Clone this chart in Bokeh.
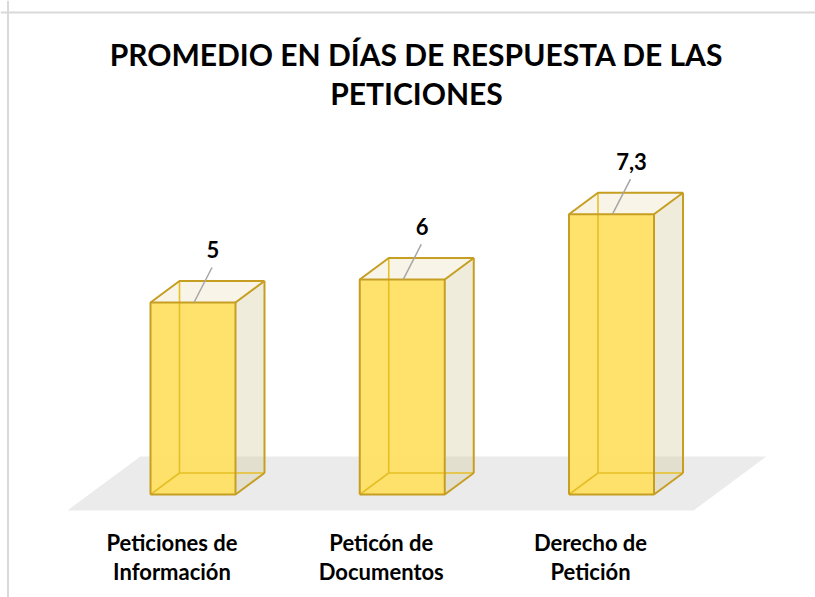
from bokeh.plotting import figure
from bokeh.models import Range1d, Span
from bokeh.core.properties import value
from bokeh.embed import file_html
from bokeh.resources import INLINE

# ---- data ----
cat_line1 = ["Peticiones de", "Peticón de", "Derecho de"]
cat_line2 = ["Información", "Documentos", "Petición"]
values = [5.0, 5.6, 7.3]
value_labels = ["5", "6", "7,3"]
title_lines = ["PROMEDIO EN DÍAS DE RESPUESTA DE LAS", "PETICIONES"]

# ---- layout (page pixel -> data mapping) ----
X0, SX = 192.5, 209.25   # px of category 0 centre, px per category
Y0, SY = 494.0, 38.4     # px of value 0, px per value unit
W, H = 815, 597

def dx_px(px):
    return px / SX

def dy_px(px):
    return px / SY

def px_x(px):
    return (px - X0) / SX

def px_y(py):
    return (Y0 - py) / SY

FONT = "Lato"

p = figure(width=W, height=H,
           x_range=Range1d(px_x(0), px_x(W)),
           y_range=Range1d(px_y(H), px_y(0)),
           x_axis_type=None, y_axis_type=None,
           output_backend="svg", toolbar_location=None, min_border=0)
p.grid.visible = False
p.outline_line_color = None
p.background_fill_color = "white"
p.border_fill_color = "white"

# chart-area border (top and left visible)
p.add_layout(Span(location=px_x(7.5), dimension="height", line_color="#d9d9d9", line_width=2))
p.add_layout(Span(location=px_y(12), dimension="width", line_color="#d9d9d9", line_width=2))

# ---- geometry ----
xs_cat = list(range(len(values)))
hw = dx_px(42.5)          # half bar width
ddx = dx_px(29)           # depth offset x
ddy = dy_px(21.5)         # depth offset y

# floor
f_front = dy_px(-16)
f_back = dy_px(38)
f_left = -0.5 - dx_px(21)
f_right = len(values) - 0.5 - dx_px(22.6)
f_dx = dx_px(73)
p.patch([f_left, f_right, f_right + f_dx, f_left + f_dx],
        [f_front, f_front, f_back, f_back],
        fill_color="#ebebeb", line_color=None)

front_x, front_y, side_x, side_y, top_x, top_y = [], [], [], [], [], []
hidden_x, hidden_y, vis_x, vis_y = [], [], [], []
for x, v in zip(xs_cat, values):
    l, r = x - hw, x + hw
    front_x.append([l, r, r, l]); front_y.append([0, 0, v, v])
    side_x.append([r, r + ddx, r + ddx, r]); side_y.append([0, ddy, v + ddy, v])
    top_x.append([l, l + ddx, r + ddx, r]); top_y.append([v, v + ddy, v + ddy, v])
    # hidden edges
    hidden_x += [[l + ddx, l + ddx], [l + ddx, r + ddx], [l, l + ddx]]
    hidden_y += [[ddy, v + ddy], [ddy, ddy], [0, ddy]]
    # visible edges
    vis_x += [[l, r, r, l, l], [l, l + ddx, r + ddx, r], [r + ddx, r + ddx], [r, r + ddx]]
    vis_y += [[0, 0, v, v, 0], [v, v + ddy, v + ddy, v], [ddy, v + ddy], [0, ddy]]

p.patches(side_x, side_y, fill_color=(212, 201, 155), fill_alpha=0.35, line_color=None)
p.patches(top_x, top_y, fill_color=(232, 220, 176), fill_alpha=0.3, line_color=None)
p.patches(front_x, front_y, fill_color="#ffe060", fill_alpha=0.92, line_color=None)
p.multi_line(hidden_x, hidden_y, line_color="#e6bf26", line_width=1.6)
p.multi_line(vis_x, vis_y, line_color="#c69e22", line_width=2)

# value labels and leader lines
lead_x, lead_y, lab_x, lab_y = [], [], [], []
for x, v in zip(xs_cat, values):
    lead_x.append([x + dx_px(1), x + dx_px(19)])
    lead_y.append([v, v + dy_px(35)])
    lab_x.append(x + dx_px(20))
    lab_y.append(v + dy_px(53))
p.multi_line(lead_x, lead_y, line_color="#a6a6a6", line_width=1.5)
p.text(lab_x, lab_y, text=value_labels, text_font=value(FONT), text_font_style="bold",
       text_font_size="22px", text_color="#000000", text_align="center", text_baseline="middle")

# category labels
cx = [x - dx_px(21) for x in xs_cat]
p.text(cx, [px_y(542)] * len(cx), text=cat_line1, text_font=value(FONT), text_font_style="bold",
       text_font_size="22px", text_color="#000000", text_align="center", text_baseline="middle")
p.text(cx, [px_y(571)] * len(cx), text=cat_line2, text_font=value(FONT), text_font_style="bold",
       text_font_size="22px", text_color="#000000", text_align="center", text_baseline="middle")

# title
p.text([px_x(416)] * 2, [px_y(53), px_y(92)], text=title_lines, text_font=value(FONT),
       text_font_style="bold", text_font_size="30px", text_color="#000000",
       text_align="center", text_baseline="middle")

open("out.html", "w").write(file_html(p, INLINE))
